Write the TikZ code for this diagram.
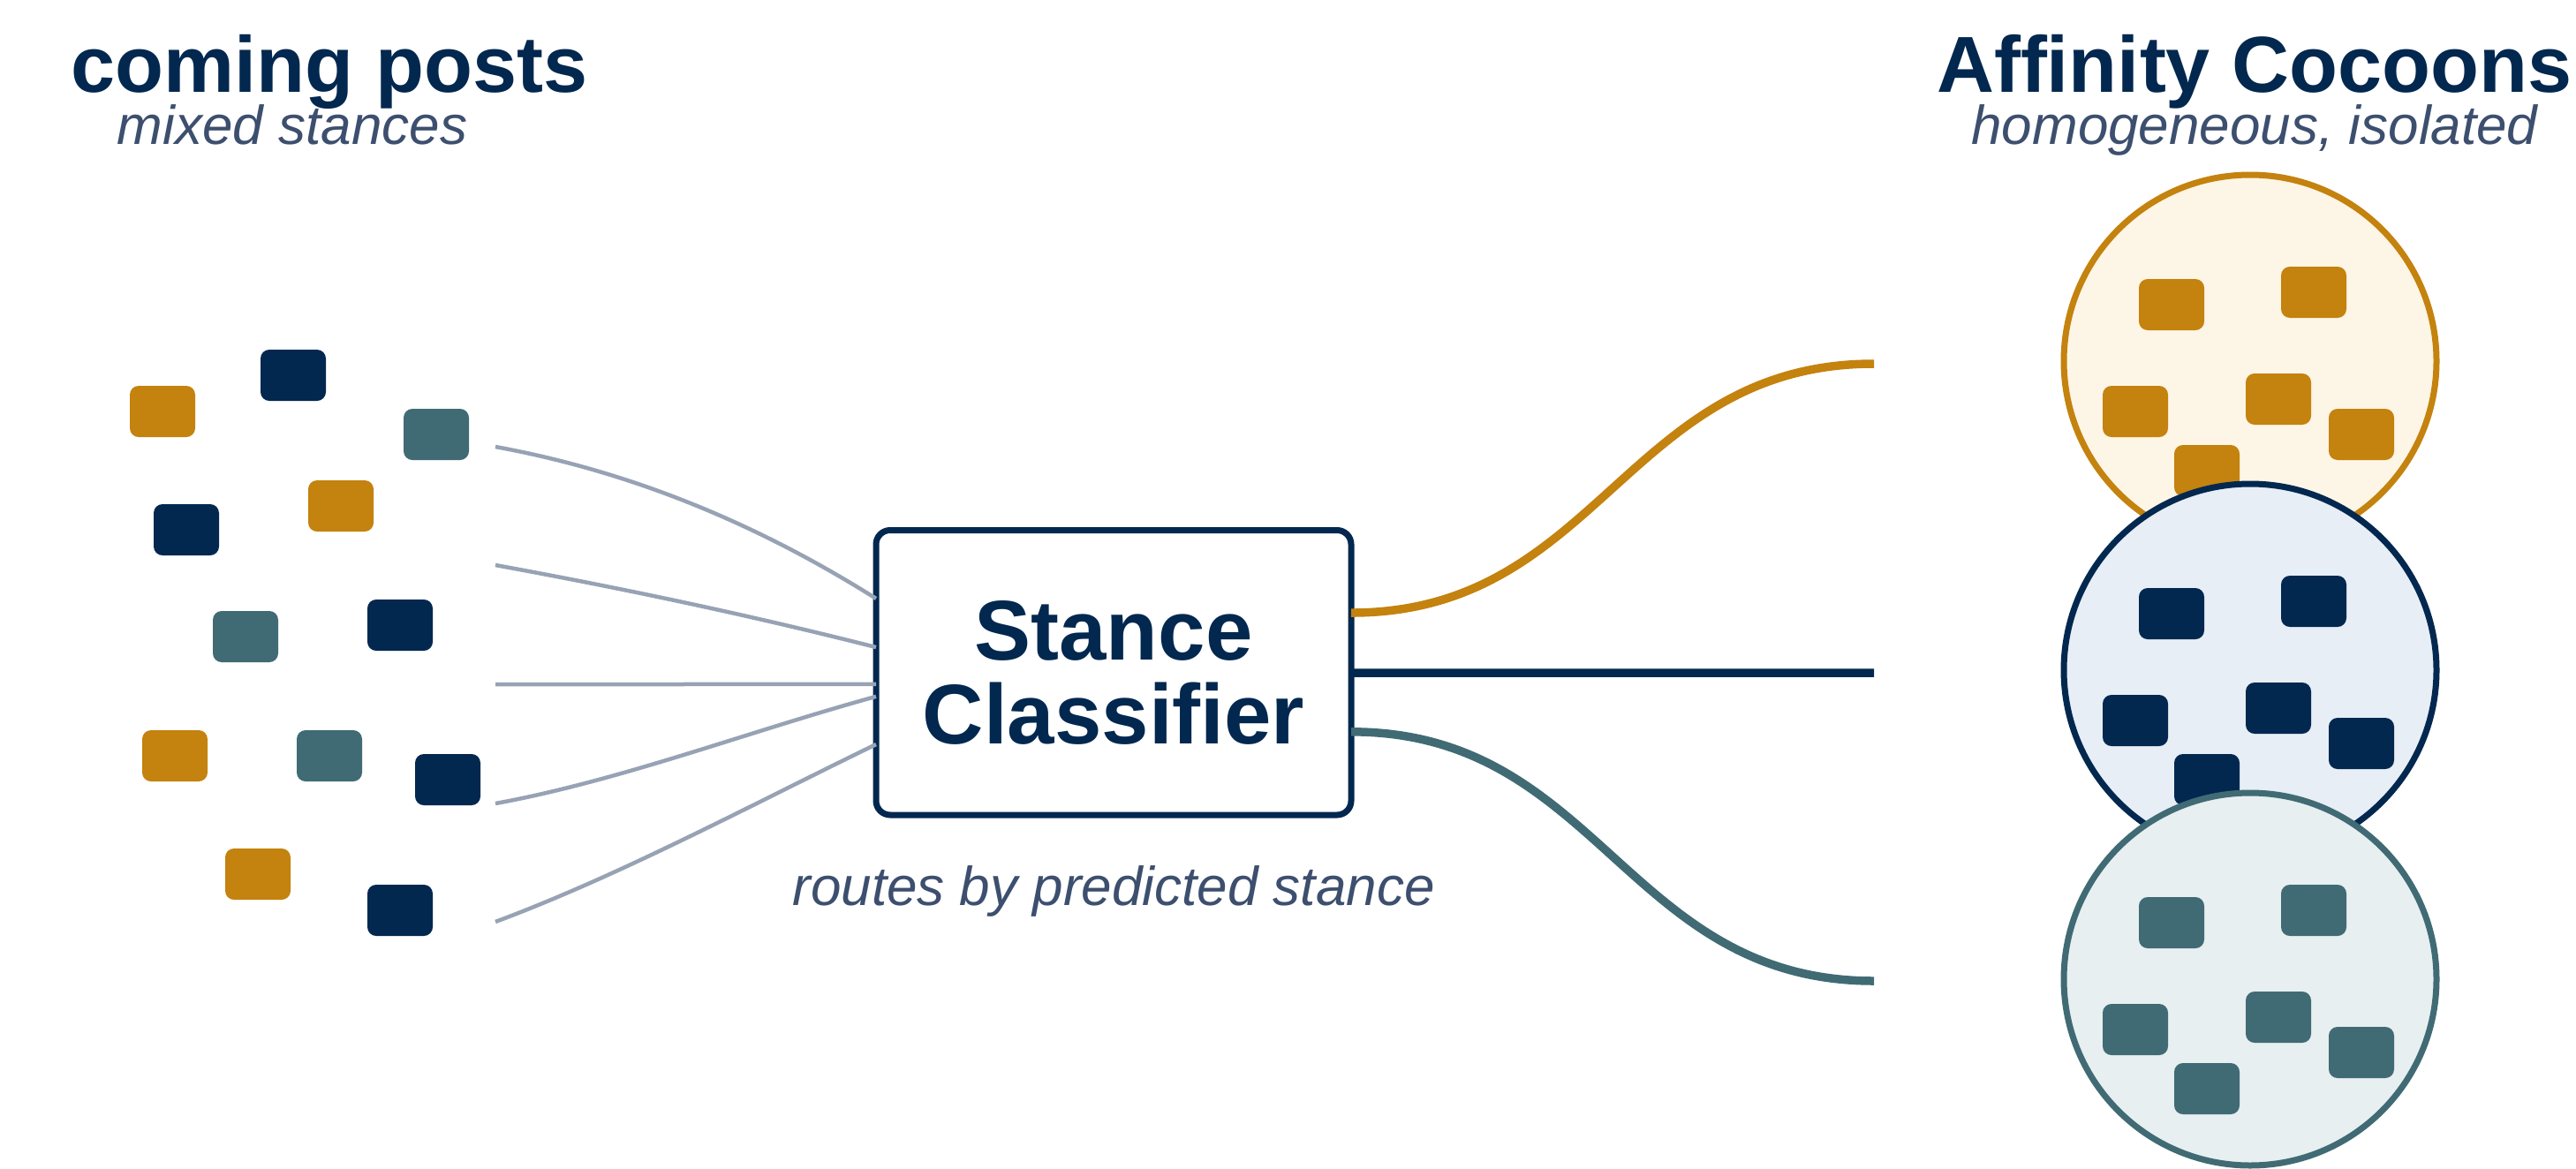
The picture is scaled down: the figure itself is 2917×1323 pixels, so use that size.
\documentclass[tikz,border=0pt]{standalone}
\usepackage{fontspec}
\setmainfont{Liberation Sans}
\usetikzlibrary{calc}
\definecolor{navy}{HTML}{03284F}
\definecolor{gold}{HTML}{C4820E}
\definecolor{tealc}{HTML}{416B74}
\definecolor{subc}{HTML}{3D4F6E}
\definecolor{wire}{HTML}{97A3B4}
\definecolor{goldbg}{HTML}{FDF5E6}
\definecolor{navybg}{HTML}{E7EEF6}
\definecolor{tealbg}{HTML}{E7EFF1}
\begin{document}
\begin{tikzpicture}[x=1pt,y=-1pt,
  post/.style={rectangle, minimum width=74pt, minimum height=58pt, inner sep=0pt, outer sep=0pt, rounded corners=10pt, draw=none, fill=#1},
  cocoon/.style 2 args={circle, minimum size=422pt, inner sep=0pt, outer sep=0pt, line width=7pt, draw=#1, fill=#2},
  wireln/.style={draw=wire, line width=4.5pt},
  route/.style={line width=9.5pt, draw=#1},
  titletext/.style={text=navy, font=\bfseries\fontsize{90}{95}\selectfont, inner sep=0pt, anchor=base},
  subtext/.style={text=subc, font=\itshape\fontsize{62}{70}\selectfont, inner sep=0pt, anchor=base},
]
\useasboundingbox (0,0) rectangle (2917,1323);

% titles
\node[titletext] (t1) at (373,104) {coming posts};
\node[subtext] (s1) at (331,163) {mixed stances};
\node[titletext] (t2) at (2553,104) {Affinity Cocoons};
\node[subtext] (s2) at (2553,163) {homogeneous, isolated};

% incoming posts
\node[post=gold]  (p1)  at (184,466) {};
\node[post=navy]  (p2)  at (332,425) {};
\node[post=tealc] (p3)  at (494,492) {};
\node[post=navy]  (p4)  at (211,600) {};
\node[post=gold]  (p5)  at (386,573) {};
\node[post=tealc] (p6)  at (278,721) {};
\node[post=navy]  (p7)  at (453,708) {};
\node[post=gold]  (p8)  at (198,856) {};
\node[post=tealc] (p9)  at (373,856) {};
\node[post=navy]  (p10) at (507,883) {};
\node[post=gold]  (p11) at (292,990) {};
\node[post=navy]  (p12) at (453,1031) {};

% classifier
\node[draw=navy, fill=white, line width=7pt, rounded corners=16pt, inner sep=0pt, outer sep=0pt,
      minimum width=538pt, minimum height=322.5pt, align=center, text=navy,
      font=\bfseries\fontsize{96}{95}\selectfont] (clf) at (1261,761.75) {Stance\\Classifier};
\node[subtext] (s3) at (1261,1025) {routes by predicted stance};

% incoming wires
\coordinate (w1) at (561,506);
\coordinate (w2) at (561,640);
\coordinate (w3) at (561,775);
\coordinate (w4) at (561,910);
\coordinate (w5) at (561,1044);
\draw[wireln] (w1) .. controls (703,532) and (846,586) .. ($(clf.north west)!0.240!(clf.south west)$);
\draw[wireln] (w2) .. controls (703,666) and (846,696) .. ($(clf.north west)!0.411!(clf.south west)$);
\draw[wireln] (w3) -- ($(clf.north west)!0.541!(clf.south west)$);
\draw[wireln] (w4) .. controls (703,884) and (846,829) .. ($(clf.north west)!0.584!(clf.south west)$);
\draw[wireln] (w5) .. controls (703,991) and (846,914) .. ($(clf.north west)!0.752!(clf.south west)$);

% outgoing routes
\coordinate (r1) at (2122,412);
\coordinate (r2) at (2122,762);
\coordinate (r3) at (2122,1111);
\draw[route=gold] ($(clf.north east)!0.290!(clf.south east)$) .. controls +(280,0) and +(-280,0) .. (r1);
\draw[route=navy] ($(clf.north east)!0.501!(clf.south east)$) -- (r2);
\draw[route=tealc] ($(clf.north east)!0.708!(clf.south east)$) .. controls +(280,0) and +(-280,0) .. (r3);

% cocoons
\node[cocoon={gold}{goldbg}] (c1) at (2548,409) {};
\foreach \dx/\dy [count=\k] in {-89/-64, 72/-78, -130/57, 32/43, 126/83, -49/124}
  \node[post=gold] (ga\k) at ($(c1)+(\dx,\dy)$) {};
\node[cocoon={navy}{navybg}] (c2) at (2548,759) {};
\foreach \dx/\dy [count=\k] in {-89/-64, 72/-78, -130/57, 32/43, 126/83, -49/124}
  \node[post=navy] (na\k) at ($(c2)+(\dx,\dy)$) {};
\node[cocoon={tealc}{tealbg}] (c3) at (2548,1109) {};
\foreach \dx/\dy [count=\k] in {-89/-64, 72/-78, -130/57, 32/43, 126/83, -49/124}
  \node[post=tealc] (ta\k) at ($(c3)+(\dx,\dy)$) {};
\end{tikzpicture}
\end{document}
